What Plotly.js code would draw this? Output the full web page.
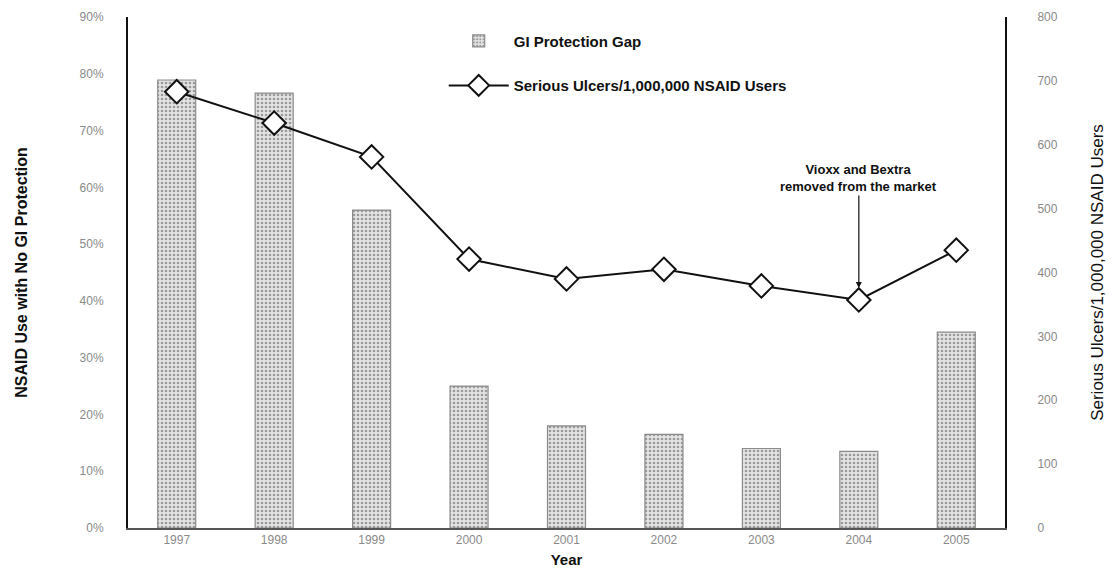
<!DOCTYPE html>
<html>
<head>
<meta charset="utf-8">
<script src="https://cdn.plot.ly/plotly-3.0.1.min.js"></script>
<style>html,body{margin:0;padding:0;background:#fff;}#chart{width:1114px;height:583px;}</style>
</head>
<body>
<div id="chart"></div>
<script>
var years = ['1997','1998','1999','2000','2001','2002','2003','2004','2005'];
var gapPct = [78.9, 76.6, 56.0, 25.0, 18.0, 16.5, 14.0, 13.5, 34.5];
var ulcers = [683, 634, 581, 421, 390, 405, 379, 357, 435];
var leftTicks = [0,10,20,30,40,50,60,70,80,90];
var leftTickText = ['0%','10%','20%','30%','40%','50%','60%','70%','80%','90%'];
var rightTicks = [0,100,200,300,400,500,600,700,800];
var noteYear = '2004';
var noteText = '<b>Vioxx and Bextra<br>removed from the market</b>';

var FONT = 'Liberation Sans, Arial, sans-serif';
var tickFont = {family: FONT, size: 12, color: '#8a8a8a'};

var traces = [
  {
    type: 'bar', x: years, y: gapPct, name: 'GI Protection Gap', yaxis: 'y',
    legendgroup: 'a', width: 0.39,
    marker: {color: '#dcdcdc', line: {color: '#8c8c8c', width: 1.2},
      pattern: {shape: '.', fgcolor: '#9a9a9a', bgcolor: '#e4e4e4', size: 4, solidity: 0.35}}
  },
  {
    type: 'scatter', mode: 'lines+markers', x: years, y: ulcers, yaxis: 'y2',
    name: 'Serious Ulcers/1,000,000 NSAID Users', legendgroup: 'b',
    line: {color: '#111', width: 2},
    marker: {symbol: 'diamond', size: 18, color: '#fff', line: {color: '#111', width: 2}}
  }
];

var noteIdx = years.indexOf(noteYear);

var layout = {
  width: 1114, height: 583,
  margin: {l: 128, r: 109, t: 17, b: 55},
  paper_bgcolor: '#fff', plot_bgcolor: '#fff',
  showlegend: true,
  legend: {x: 0.36, y: 0.985, xanchor: 'left', yanchor: 'top', bgcolor: 'rgba(0,0,0,0)',
    font: {family: FONT, size: 15, color: '#111', weight: 'bold'},
    traceorder: 'grouped', tracegroupgap: 22, itemwidth: 60},
  xaxis: {
    type: 'category', range: [-0.5, 8.5], showgrid: false, zeroline: false,
    showline: true, linecolor: '#555', linewidth: 2, ticks: '', tickfont: tickFont,
    title: {text: 'Year', font: {family: FONT, size: 15, color: '#111', weight: 'bold'}, standoff: 8}
  },
  yaxis: {
    range: [0, 90], tickmode: 'array', tickvals: leftTicks, ticktext: leftTickText,
    showgrid: false, zeroline: false,
    showline: true, linecolor: '#111', linewidth: 2, ticks: '', tickfont: tickFont,
    ticklabelstandoff: 20,
    title: {text: 'NSAID Use with No GI Protection', font: {family: FONT, size: 16, color: '#111', weight: 'bold'}, standoff: 48}
  },
  yaxis2: {
    overlaying: 'y', side: 'right', range: [0, 800], tickmode: 'array', tickvals: rightTicks,
    showgrid: false, zeroline: false, showline: true, linecolor: '#111', linewidth: 2,
    ticks: '', tickfont: tickFont, ticklabelstandoff: 28,
    title: {text: 'Serious Ulcers/1,000,000 NSAID Users', font: {family: FONT, size: 17, color: '#111'}, standoff: 34}
  },
  annotations: [{
    x: noteIdx, y: ulcers[noteIdx], xref: 'x', yref: 'y2',
    text: noteText,
    font: {family: FONT, size: 13, color: '#111'},
    showarrow: true, arrowhead: 2, arrowsize: 1, arrowwidth: 1.2, arrowcolor: '#111',
    ax: 0, ay: -122, standoff: 12
  }]
};

Plotly.newPlot('chart', traces, layout, {displayModeBar: false});
</script>
</body>
</html>
